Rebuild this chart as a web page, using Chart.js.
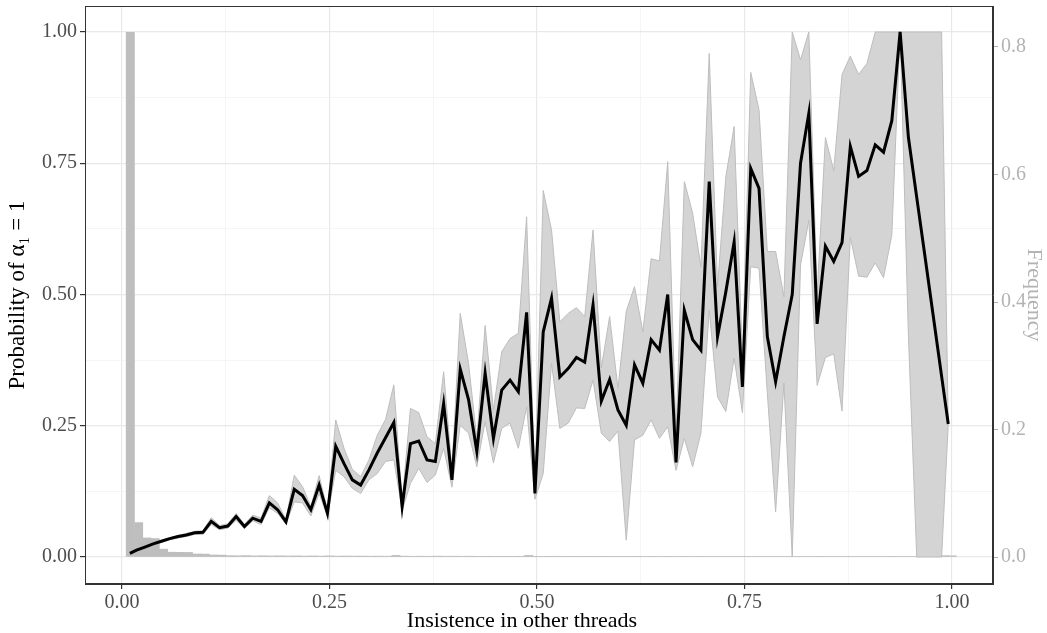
<!DOCTYPE html>
<html>
<head>
<meta charset="utf-8">
<script src="https://cdn.jsdelivr.net/npm/chart.js@4"></script>
<style>
  html, body { margin: 0; padding: 0; background: #fff; }
  #wrap { width: 1047px; height: 633px; }
</style>
</head>
<body>
<div id="wrap"><canvas id="chart"></canvas></div>
<script>
"use strict";

// x positions of the binned means (insistence in other threads)
const xs = [0.0095, 0.0175, 0.0275, 0.0375, 0.0475, 0.0575, 0.0675, 0.0775, 0.0875, 0.0975,
            0.1075, 0.1175, 0.1275, 0.1375, 0.1475, 0.1575, 0.1675, 0.1775, 0.1875, 0.1975,
            0.2075, 0.2175, 0.2275, 0.2375, 0.2475, 0.2575, 0.2675, 0.2775, 0.2875, 0.2975,
            0.3075, 0.3175, 0.3275, 0.3375, 0.3475, 0.3575, 0.3675, 0.3775, 0.3875, 0.3975,
            0.4075, 0.4175, 0.4275, 0.4375, 0.4475, 0.4575, 0.4675, 0.4775, 0.4875, 0.4975,
            0.5075, 0.5175, 0.5275, 0.5375, 0.5475, 0.5575, 0.5675, 0.5775, 0.5875, 0.5975,
            0.6075, 0.6175, 0.6275, 0.6375, 0.6475, 0.6575, 0.6675, 0.6775, 0.6875, 0.6975,
            0.7075, 0.7175, 0.7275, 0.7375, 0.7475, 0.7575, 0.7675, 0.7775, 0.7875, 0.7975,
            0.8075, 0.8175, 0.8275, 0.8375, 0.8475, 0.8575, 0.8675, 0.8775, 0.8875, 0.8975,
            0.9075, 0.9175, 0.9275, 0.9375, 0.9475, 0.9575, 0.9675, 0.9775, 0.9875, 0.9955];

// probability of alpha_1 = 1 (mean) and its band
const meanP = [0.007, 0.013, 0.019, 0.025, 0.030, 0.035, 0.039, 0.042, 0.046, 0.047,
               0.068, 0.056, 0.059, 0.077, 0.058, 0.074, 0.068, 0.103, 0.090, 0.067,
               0.129, 0.117, 0.090, 0.137, 0.083, 0.211, 0.178, 0.147, 0.137, 0.166,
               0.198, 0.227, 0.256, 0.096, 0.216, 0.221, 0.185, 0.182, 0.292, 0.147,
               0.358, 0.300, 0.201, 0.350, 0.226, 0.318, 0.337, 0.315, 0.466, 0.121,
               0.429, 0.493, 0.343, 0.359, 0.380, 0.371, 0.480, 0.297, 0.338, 0.280,
               0.251, 0.366, 0.331, 0.414, 0.394, 0.500, 0.180, 0.470, 0.414, 0.394,
               0.715, 0.420, 0.505, 0.600, 0.324, 0.740, 0.702, 0.420, 0.334, 0.420,
               0.500, 0.750, 0.845, 0.444, 0.592, 0.563, 0.599, 0.782, 0.725, 0.736,
               0.785, 0.771, 0.831, 1.000, 0.799, 0.685, 0.572, 0.458, 0.344, 0.2535];

const lowerP = [0.006, 0.012, 0.018, 0.023, 0.028, 0.033, 0.036, 0.039, 0.043, 0.043,
                0.062, 0.052, 0.055, 0.070, 0.054, 0.069, 0.062, 0.094, 0.083, 0.063,
                0.105, 0.103, 0.078, 0.121, 0.078, 0.165, 0.153, 0.131, 0.121, 0.147,
                0.159, 0.182, 0.185, 0.089, 0.140, 0.169, 0.142, 0.156, 0.207, 0.133,
                0.251, 0.236, 0.172, 0.258, 0.179, 0.245, 0.255, 0.207, 0.286, 0.110,
                0.159, 0.369, 0.245, 0.255, 0.284, 0.283, 0.337, 0.236, 0.220, 0.240,
                0.032, 0.223, 0.232, 0.261, 0.226, 0.248, 0.165, 0.226, 0.172, 0.236,
                0.470, 0.305, 0.277, 0.379, 0.275, 0.553, 0.550, 0.312, 0.086, 0.331,
                0.000, 0.556, 0.641, 0.327, 0.380, 0.387, 0.278, 0.609, 0.535, 0.533,
                0.560, 0.532, 0.613, 1.000, 0.420, 0.000, 0.000, 0.000, 0.000, 0.2535];

const upperP = [0.008, 0.015, 0.021, 0.027, 0.032, 0.037, 0.041, 0.045, 0.049, 0.050,
                0.075, 0.060, 0.063, 0.083, 0.062, 0.080, 0.074, 0.117, 0.103, 0.071,
                0.156, 0.134, 0.096, 0.155, 0.089, 0.261, 0.207, 0.167, 0.153, 0.185,
                0.232, 0.262, 0.328, 0.105, 0.283, 0.275, 0.229, 0.216, 0.353, 0.166,
                0.464, 0.369, 0.225, 0.441, 0.280, 0.391, 0.416, 0.426, 0.648, 0.135,
                0.698, 0.623, 0.448, 0.464, 0.475, 0.458, 0.623, 0.360, 0.458, 0.321,
                0.468, 0.515, 0.429, 0.568, 0.564, 0.753, 0.230, 0.715, 0.655, 0.553,
                0.959, 0.515, 0.724, 0.820, 0.380, 0.923, 0.852, 0.582, 0.582, 0.496,
                1.000, 0.947, 1.000, 0.500, 0.799, 0.736, 0.919, 0.954, 0.919, 0.940,
                1.000, 1.000, 1.000, 1.000, 1.000, 1.000, 1.000, 1.000, 1.000, 0.2535];

// histogram of insistence (bin centres and relative frequency)
const histX = [0.01, 0.02, 0.03, 0.04, 0.05, 0.06, 0.07, 0.08, 0.09, 0.10,
               0.11, 0.12, 0.13, 0.14, 0.15, 0.16, 0.17, 0.18, 0.19, 0.20,
               0.21, 0.22, 0.23, 0.24, 0.25, 0.26, 0.27, 0.28, 0.29, 0.30,
               0.31, 0.32, 0.33, 0.34, 0.35, 0.36, 0.37, 0.38, 0.39, 0.40,
               0.41, 0.42, 0.43, 0.44, 0.45, 0.46, 0.47, 0.48, 0.49, 0.50,
               0.51, 0.52, 0.53, 0.54, 0.55, 0.56, 0.57, 0.58, 0.59, 0.60,
               0.61, 0.62, 0.63, 0.64, 0.65, 0.66, 0.67, 0.68, 0.69, 0.70,
               0.71, 0.72, 0.73, 0.74, 0.75, 0.76, 0.77, 0.78, 0.79, 0.80,
               0.81, 0.82, 0.83, 0.84, 0.85, 0.86, 0.87, 0.88, 0.89, 0.90,
               0.91, 0.92, 0.93, 0.94, 0.95, 0.96, 0.97, 0.98, 0.99, 1.00];

const histFreq = [0.823, 0.054, 0.030, 0.029, 0.0124, 0.0076, 0.0074, 0.0072, 0.0048, 0.0046,
                  0.0032, 0.0030, 0.0022, 0.0020, 0.0022, 0.0018, 0.0020, 0.0017, 0.0019, 0.0016,
                  0.0018, 0.0015, 0.0017, 0.0015, 0.0018, 0.0014, 0.0016, 0.0014, 0.0015, 0.0013,
                  0.0014, 0.0013, 0.0026, 0.0014, 0.0012, 0.0013, 0.0012, 0.0014, 0.0012, 0.0013,
                  0.0012, 0.0013, 0.0011, 0.0012, 0.0011, 0.0012, 0.0011, 0.0012, 0.0026, 0.0011,
                  0.0011, 0.0012, 0.0010, 0.0011, 0.0010, 0.0011, 0.0010, 0.0011, 0.0010, 0.0010,
                  0.0010, 0.0011, 0.0010, 0.0010, 0.0009, 0.0010, 0.0009, 0.0010, 0.0009, 0.0010,
                  0.0009, 0.0009, 0.0010, 0.0009, 0.0009, 0.0009, 0.0010, 0.0009, 0.0009, 0.0009,
                  0.0009, 0.0009, 0.0009, 0.0010, 0.0009, 0.0009, 0.0009, 0.0009, 0.0009, 0.0009,
                  0.0009, 0.0009, 0.0010, 0.0009, 0.0009, 0.0009, 0.0009, 0.0009, 0.0022, 0.0020];

// axis ticks (major labelled, minor only as grid lines)
const xTicks = [0, 0.125, 0.25, 0.375, 0.5, 0.625, 0.75, 0.875, 1];
const yTicks = [0, 0.125, 0.25, 0.375, 0.5, 0.625, 0.75, 0.875, 1];
const y2Ticks = [0, 0.2, 0.4, 0.6, 0.8];

const xTitle = "Insistence in other threads";
const yTitle = "Probability of α₁ = 1";
const y2Title = "Frequency";

const serif = "'Liberation Serif', 'DejaVu Serif', 'Times New Roman', serif";
Chart.defaults.font.family = serif;

function isMajor(v) {
    return Math.abs(v * 4 - Math.round(v * 4)) < 1e-6;
}
function tickMajor(c) {
    return !c.tick || isMajor(c.tick.value);
}
function gridColor(c) {
    return tickMajor(c) ? "#e8e8e8" : "#f3f3f3";
}
function gridWidth(c) {
    return tickMajor(c) ? 1.2 : 0.8;
}
function tickColor(c) {
    return tickMajor(c) ? "#333333" : "rgba(0,0,0,0)";
}
// fixed axis sizes so the panel sits where the reference has it
function fixSize(prop, size) {
    return s => {
        s[prop] = size;
        s.paddingTop = 0;
        s.paddingBottom = 0;
        s.paddingLeft = 0;
        s.paddingRight = 0;
    };
}

// full panel border like theme_bw, plus the x title (sits a bit left of panel centre)
const panelBorder = {
    id: "panelBorder",
    afterDraw(chart) {
        const a = chart.chartArea;
        const ctx = chart.ctx;
        ctx.save();
        ctx.strokeStyle = "#333333";
        ctx.lineWidth = 1;
        ctx.strokeRect(a.left + 0.5, a.top + 0.5, a.right - a.left - 1, a.bottom - a.top - 1);
        ctx.fillStyle = "#000000";
        ctx.font = "22px " + serif;
        ctx.textAlign = "center";
        ctx.textBaseline = "middle";
        ctx.fillText(xTitle, (a.left + a.right) / 2 - 17, 621);
        ctx.restore();
    }
};

const ctx = document.getElementById("chart").getContext("2d");

new Chart(ctx, {
    type: "line",
    data: {
        datasets: [
            {
                label: "mean",
                data: xs.map((x, i) => ({ x: x, y: meanP[i] })),
                borderColor: "#000000",
                borderWidth: 3,
                pointRadius: 0,
                tension: 0,
                fill: false,
                yAxisID: "y",
                order: 0
            },
            {
                label: "upper",
                data: xs.map((x, i) => ({ x: x, y: upperP[i] })),
                borderColor: "#bdbdbd",
                borderWidth: 1,
                pointRadius: 0,
                tension: 0,
                fill: 2,
                backgroundColor: "#d4d4d4",
                yAxisID: "y",
                order: 2
            },
            {
                label: "lower",
                data: xs.map((x, i) => ({ x: x, y: lowerP[i] })),
                borderColor: "#bdbdbd",
                borderWidth: 1,
                pointRadius: 0,
                tension: 0,
                fill: false,
                yAxisID: "y",
                order: 1
            },
            {
                type: "bar",
                label: "frequency",
                data: histX.map((x, i) => ({ x: x, y: histFreq[i] })),
                backgroundColor: "#bebebe",
                borderWidth: 0,
                barPercentage: 1,
                categoryPercentage: 1,
                yAxisID: "y2",
                order: 3
            }
        ]
    },
    options: {
        responsive: true,
        maintainAspectRatio: false,
        animation: false,
        devicePixelRatio: 1,
        layout: { padding: { top: 6, left: 0, right: 0, bottom: 0 } },
        plugins: {
            legend: { display: false },
            tooltip: { enabled: false }
        },
        scales: {
            x: {
                type: "linear",
                offset: false,
                min: -0.0446,
                max: 1.0494,
                afterBuildTicks: s => { s.ticks = xTicks.map(v => ({ value: v })); },
                afterFit: fixSize("height", 49),
                ticks: {
                    autoSkip: false,
                    maxRotation: 0,
                    padding: 2,
                    color: "#4d4d4d",
                    font: { size: 20 },
                    callback: v => isMajor(v) ? v.toFixed(2) : ""
                },
                grid: { offset: false, color: gridColor, lineWidth: gridWidth, tickColor: tickColor, tickLength: 5 },
                border: { display: true, color: "#333333", width: 1 },
                title: { display: false }
            },
            y: {
                type: "linear",
                position: "left",
                min: -0.0514,
                max: 1.0495,
                afterBuildTicks: s => { s.ticks = yTicks.map(v => ({ value: v })); },
                afterFit: fixSize("width", 85),
                ticks: {
                    autoSkip: false,
                    padding: 3,
                    color: "#4d4d4d",
                    font: { size: 20 },
                    callback: v => isMajor(v) ? v.toFixed(2) : ""
                },
                grid: { color: gridColor, lineWidth: gridWidth, tickColor: tickColor, tickLength: 5 },
                border: { display: true, color: "#333333", width: 1 },
                title: {
                    display: true,
                    text: yTitle,
                    color: "#000000",
                    font: { size: 23 },
                    padding: { top: 4, bottom: 0 }
                }
            },
            y2: {
                type: "linear",
                position: "right",
                min: -0.0423,
                max: 0.8643,
                afterBuildTicks: s => { s.ticks = y2Ticks.map(v => ({ value: v })); },
                afterFit: fixSize("width", 54),
                ticks: {
                    autoSkip: false,
                    padding: 3,
                    color: "#b3b3b3",
                    font: { size: 20 },
                    callback: v => v.toFixed(1)
                },
                grid: { drawOnChartArea: false, tickColor: "#b3b3b3", tickLength: 5 },
                border: { display: true, color: "#333333", width: 1 },
                title: {
                    display: true,
                    text: y2Title,
                    color: "#b3b3b3",
                    font: { size: 22 },
                    padding: { top: 0, bottom: 0 }
                }
            }
        }
    },
    plugins: [panelBorder]
});
</script>
</body>
</html>
